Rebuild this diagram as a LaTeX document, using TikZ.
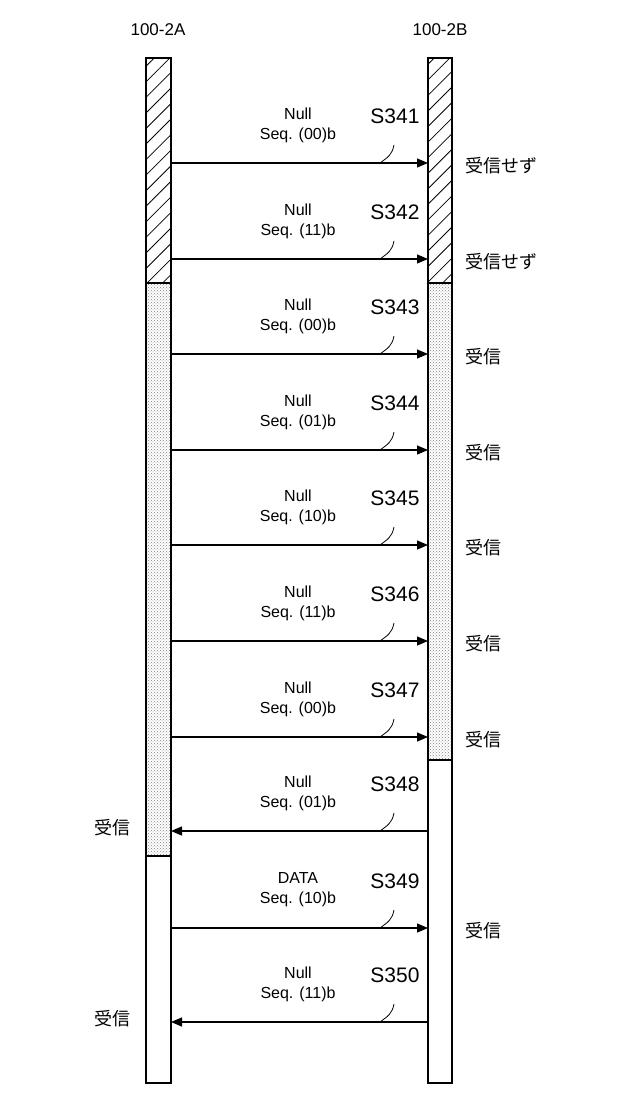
\documentclass[tikz,border=0pt]{standalone}
\usepackage{fontspec}
\setmainfont{Liberation Sans}
\newfontfamily\jpfont{Noto Sans CJK JP}
\usetikzlibrary{arrows.meta, patterns, patterns.meta}

\begin{document}
\begin{tikzpicture}
        [x=1pt, y=-1pt, line width=1.2pt,
         msg/.style={font=\fontsize{16}{17}\selectfont, align=center},
         steplabel/.style={font=\fontsize{21}{23}\selectfont},
         jp/.style={font=\jpfont\fontsize{18}{19}\selectfont},
         hatch/.style={pattern={Lines[angle=45, distance=11pt, line width=0.8pt]}},
         dotted fill/.style={pattern=crosshatch dots, pattern color=gray},
         >={Triangle[length=11pt, width=9pt]}]
        \useasboundingbox (0,0) rectangle (640,1099);
        \node[font=\fontsize{17}{18}\selectfont] (A) at (158,30) {100-2A};
        \node[font=\fontsize{17}{18}\selectfont] (B) at (440,30) {100-2B};
        % bars
        \draw[hatch] (146,58) rectangle (171,283);
        \draw[dotted fill] (146,283) rectangle (171,856);
        \draw (146,856) rectangle (171,1083);
        \draw[hatch] (428,58) rectangle (452,283);
        \draw[dotted fill] (428,283) rectangle (452,760);
        \draw (428,760) rectangle (452,1083);
        % messages
        \foreach \y/\kind/\seq/\num/\dir/\rx in {
            163/Null/00/341/r/受信せず, 259/Null/11/342/r/受信せず,
            354/Null/00/343/r/受信, 450/Null/01/344/r/受信,
            545/Null/10/345/r/受信, 641/Null/11/346/r/受信,
            737/Null/00/347/r/受信, 831/Null/01/348/l/受信,
            928/DATA/10/349/r/受信, 1022/Null/11/350/l/受信} {
            \coordinate (L\num) at (171,\y);
            \coordinate (R\num) at (428,\y);
            \node[msg] (m\num) at (298,\y-38) {\kind\\[3pt]Seq. (\seq)b};
            \node[steplabel] (s\num) at (395,\y-47) {S\num};
            \draw[line width=0.8pt] (380,\y) .. controls (388,\y-6) and (392,\y-8) .. (394,\y-18);
            \if r\dir
                \draw[->] (L\num) -- (R\num);
                \node[jp, anchor=west] (j\num) at (462,\y+3) {\rx};
            \else
                \draw[->] (R\num) -- (L\num);
                \node[jp] (j\num) at (112,\y-3) {\rx};
            \fi
        }
    \end{tikzpicture}
\end{document}
